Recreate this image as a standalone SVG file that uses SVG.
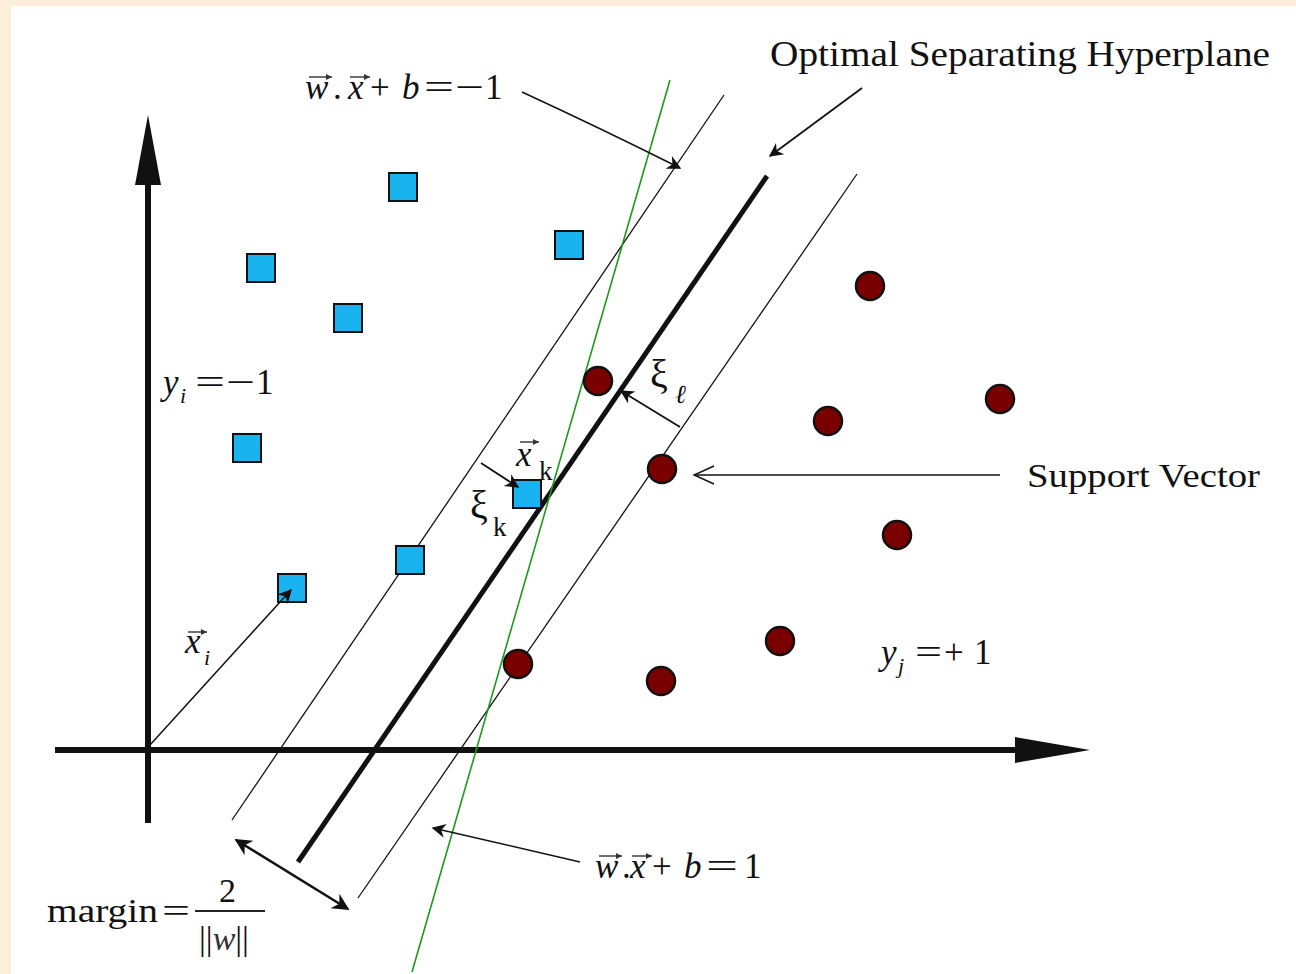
<svg xmlns="http://www.w3.org/2000/svg" width="1296" height="974" viewBox="0 0 1296 974">
<defs>
<style>
.t{font-family:"Liberation Serif","DejaVu Serif",serif;fill:#111}
.it{font-style:italic}
.ln{stroke:#111;fill:none}
.sq{fill:#19B3EF;stroke:#111;stroke-width:2}
.ci{fill:#7A0000;stroke:#111;stroke-width:2.5}
.acc{stroke:#333;stroke-width:1.4;fill:none}
</style>
<marker id="ah" viewBox="0 0 10 10" refX="9" refY="5" markerWidth="22" markerHeight="14" markerUnits="userSpaceOnUse" orient="auto">
<path d="M0,0 L10,5 L0,10 L3,5 z" fill="#111"/>
</marker>
<marker id="ahs" viewBox="0 0 10 10" refX="9" refY="5" markerWidth="24" markerHeight="17" markerUnits="userSpaceOnUse" orient="auto-start-reverse">
<path d="M0,0 L10,5 L0,10 L3,5 z" fill="#111"/>
</marker>
<marker id="acc" viewBox="0 0 10 10" refX="10" refY="5" markerWidth="7" markerHeight="6" markerUnits="userSpaceOnUse" orient="auto">
<path d="M0,0 L10,5 L0,10 z" fill="#333"/>
</marker>
</defs>
<rect x="0" y="0" width="1296" height="974" fill="#FDEEDA"/>
<rect x="11" y="6" width="1285" height="968" fill="#FFFFFF"/>

<g id="axes">
<line class="ln" x1="148" y1="823" x2="148" y2="180" stroke-width="6"/>
<polygon points="148,115 135,185 161,185" fill="#111"/>
<line class="ln" x1="55" y1="750" x2="1020" y2="750" stroke-width="6"/>
<polygon points="1090,750 1015,737 1015,763" fill="#111"/>
</g>

<g id="planes">
<line id="margin-neg" class="ln" x1="232" y1="820" x2="724" y2="95" stroke-width="1.3"/>
<line id="hyperplane" class="ln" x1="298" y1="862" x2="767" y2="176" stroke-width="5"/>
<line id="margin-pos" class="ln" x1="358" y1="898" x2="857" y2="174" stroke-width="1.3"/>
<line id="green" x1="412" y1="972" x2="670" y2="80" stroke="#1C9A1C" stroke-width="1.6"/>
</g>

<g id="neg-points">
<rect class="sq" x="389" y="173" width="28" height="28"/>
<rect class="sq" x="247" y="254" width="28" height="28"/>
<rect class="sq" x="555" y="231" width="28" height="28"/>
<rect class="sq" x="334" y="304" width="28" height="28"/>
<rect class="sq" x="233" y="434" width="28" height="28"/>
<rect class="sq" x="513" y="480" width="28" height="28"/>
<rect class="sq" x="396" y="546" width="28" height="28"/>
<rect class="sq" x="278" y="574" width="28" height="28"/>
</g>

<g id="pos-points">
<circle class="ci" cx="870" cy="286" r="14"/>
<circle class="ci" cx="598" cy="381" r="14"/>
<circle class="ci" cx="1000" cy="399" r="14"/>
<circle class="ci" cx="828" cy="421" r="14"/>
<circle class="ci" cx="662" cy="469" r="14"/>
<circle class="ci" cx="897" cy="535" r="14"/>
<circle class="ci" cx="780" cy="641" r="14"/>
<circle class="ci" cx="518" cy="664" r="14"/>
<circle class="ci" cx="661" cy="681" r="14"/>
</g>

<g id="connectors">
<line class="ln" x1="150" y1="745" x2="291" y2="590" stroke-width="1.5" marker-end="url(#ah)"/>
<line class="ln" x1="236" y1="840" x2="348" y2="909" stroke-width="2.5" marker-start="url(#ahs)" marker-end="url(#ahs)"/>
<path class="ln" d="M522,92 Q600,128 680,168" stroke-width="1.5" marker-end="url(#ah)"/>
<line class="ln" x1="862" y1="88" x2="770" y2="156" stroke-width="1.8" marker-end="url(#ah)"/>
<line class="ln" x1="580" y1="862" x2="433" y2="828" stroke-width="1.5" marker-end="url(#ah)"/>
<line class="ln" x1="481" y1="463" x2="518" y2="487" stroke-width="1.8" marker-end="url(#ah)"/>
<line class="ln" x1="680" y1="427" x2="621" y2="391" stroke-width="1.8" marker-end="url(#ah)"/>
<line class="ln" x1="1000" y1="475" x2="694" y2="475" stroke-width="1.4"/>
<polyline class="ln" points="714,466 694,475 714,484" stroke-width="1.4"/>
</g>

<g id="label-hyperplane">
<text class="t" x="770" y="66" font-size="36" textLength="500" lengthAdjust="spacingAndGlyphs">Optimal Separating Hyperplane</text>
</g>

<g id="label-support">
<text class="t" x="1027" y="487" font-size="34" textLength="233" lengthAdjust="spacingAndGlyphs">Support Vector</text>
</g>

<g id="label-neg-plane">
<text class="t" y="99" font-size="35"><tspan class="it" x="305">w</tspan><tspan x="333">.</tspan><tspan class="it" x="348">x</tspan><tspan x="370">+</tspan><tspan class="it" x="402">b</tspan><tspan x="424" textLength="30" lengthAdjust="spacingAndGlyphs">=</tspan><tspan x="455" textLength="29" lengthAdjust="spacingAndGlyphs">−</tspan><tspan x="485">1</tspan></text>
<line class="acc" x1="309" y1="77" x2="332" y2="77" marker-end="url(#acc)"/>
<line class="acc" x1="350" y1="77" x2="370" y2="77" marker-end="url(#acc)"/>
</g>

<g id="label-pos-plane">
<text class="t" y="878" font-size="35"><tspan class="it" x="595">w</tspan><tspan x="622">.</tspan><tspan class="it" x="630">x</tspan><tspan x="652">+</tspan><tspan class="it" x="684">b</tspan><tspan x="706" textLength="32" lengthAdjust="spacingAndGlyphs">=</tspan><tspan x="744">1</tspan></text>
<line class="acc" x1="599" y1="856" x2="622" y2="856" marker-end="url(#acc)"/>
<line class="acc" x1="632" y1="856" x2="652" y2="856" marker-end="url(#acc)"/>
</g>

<g id="label-yi">
<text class="t" y="394" font-size="35"><tspan class="it" x="163">y</tspan><tspan class="it" x="180" y="403" font-size="22">i</tspan><tspan x="195" y="394" textLength="30" lengthAdjust="spacingAndGlyphs">=</tspan><tspan x="226" textLength="29" lengthAdjust="spacingAndGlyphs">−</tspan><tspan x="256">1</tspan></text>
</g>

<g id="label-yj">
<text class="t" y="664" font-size="35"><tspan class="it" x="881">y</tspan><tspan class="it" x="898" y="673" font-size="22">j</tspan><tspan x="915" y="664" textLength="27" lengthAdjust="spacingAndGlyphs">=</tspan><tspan x="944">+</tspan><tspan x="974">1</tspan></text>
</g>

<g id="label-xi">
<text class="t" font-size="35"><tspan class="it" x="185" y="653">x</tspan><tspan class="it" x="204" y="665" font-size="22">i</tspan></text>
<line class="acc" x1="188" y1="632" x2="207" y2="632" marker-end="url(#acc)"/>
</g>

<g id="label-xk">
<text class="t" font-size="35"><tspan class="it" x="516" y="466">x</tspan><tspan x="539" y="480" font-size="27">k</tspan></text>
<line class="acc" x1="520" y1="442" x2="539" y2="442" marker-end="url(#acc)"/>
</g>

<g id="label-xik">
<text class="t" font-size="40" fill="#444"><tspan x="470" y="518">ξ</tspan><tspan x="493" y="536" font-size="27" fill="#111">k</tspan></text>
</g>

<g id="label-xil">
<text class="t" font-size="40" fill="#444"><tspan x="650" y="387">ξ</tspan><tspan class="it" x="675" y="403" font-size="26" fill="#111">ℓ</tspan></text>
</g>

<g id="label-margin">
<text class="t" x="47" y="922" font-size="34" textLength="111" lengthAdjust="spacingAndGlyphs">margin</text>
<text class="t" x="162" y="922" font-size="34" textLength="28" lengthAdjust="spacingAndGlyphs">=</text>
<text class="t" x="219" y="902" font-size="34">2</text>
<line x1="195" y1="911" x2="265" y2="911" stroke="#222" stroke-width="1.8"/>
<text class="t" x="199" y="950" font-size="34" fill="#666">||<tspan class="it" fill="#333">w</tspan>||</text>
</g>
</svg>
